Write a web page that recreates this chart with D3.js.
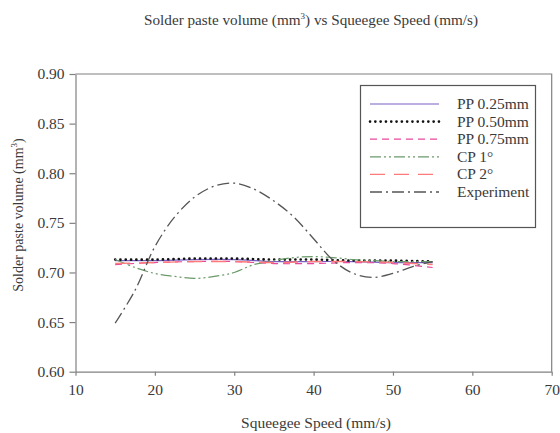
<!DOCTYPE html>
<html>
<head>
<meta charset="utf-8">
<script src="https://cdn.jsdelivr.net/npm/d3@7"></script>
<style>
  html, body { margin: 0; padding: 0; background: #fff; }
  svg { display: block; font-family: "Liberation Serif", "Times New Roman", serif; }
</style>
</head>
<body>
<div id="chart"></div>
<script>
// ---- Data ----
const xFlat = [15, 20, 25, 30, 35, 40, 45, 50, 55];
const pp025 = [0.712, 0.712, 0.713, 0.713, 0.711, 0.711, 0.711, 0.710, 0.710];
const pp050 = [0.713, 0.713, 0.714, 0.714, 0.713, 0.713, 0.712, 0.712, 0.711];
const pp075 = [0.708, 0.710, 0.711, 0.711, 0.709, 0.709, 0.710, 0.709, 0.705];
const cp2 = [0.709, 0.710, 0.711, 0.711, 0.710, 0.711, 0.711, 0.710, 0.708];

const xFine = [15, 17.5, 20, 22.5, 25, 27.5, 30, 32.5, 35, 37.5, 40, 42.5, 45, 47.5, 50, 52.5, 55];
const cp1 = [0.713, 0.705, 0.699, 0.696, 0.694, 0.696, 0.700, 0.708, 0.712, 0.715, 0.716, 0.715, 0.713, 0.712, 0.711, 0.711, 0.711];
const experiment = [0.649, 0.682, 0.726, 0.756, 0.776, 0.787, 0.790, 0.784, 0.772, 0.756, 0.734, 0.712, 0.699, 0.695, 0.699, 0.706, 0.711];

const xTicks = [10, 20, 30, 40, 50, 60, 70];
const yTicks = [0.60, 0.65, 0.70, 0.75, 0.80, 0.85, 0.90];

const seriesNames = ["PP 0.25mm", "PP 0.50mm", "PP 0.75mm", "CP 1°", "CP 2°", "Experiment"];

// ---- Styles ----
const styles = {
  "PP 0.25mm": { color: "#7a5fc4", width: 1.2, dash: null, cap: "butt" },
  "PP 0.50mm": { color: "#111111", width: 2.6, dash: "0.1,5.2", cap: "round" },
  "PP 0.75mm": { color: "#e8489c", width: 1.2, dash: "7,5", cap: "butt" },
  "CP 1°": { color: "#6a9a6a", width: 1.2, dash: "11,3,2,3,2,3", cap: "butt" },
  "CP 2°": { color: "#ff7a7a", width: 1.4, dash: "15,9", cap: "butt" },
  "Experiment": { color: "#555555", width: 1.3, dash: "12,4,2,4", cap: "butt" }
};

const series = [
  { name: "PP 0.25mm", xs: xFlat, ys: pp025 },
  { name: "PP 0.50mm", xs: xFlat, ys: pp050 },
  { name: "PP 0.75mm", xs: xFlat, ys: pp075 },
  { name: "CP 1°", xs: xFine, ys: cp1 },
  { name: "CP 2°", xs: xFlat, ys: cp2 },
  { name: "Experiment", xs: xFine, ys: experiment }
];

const W = 560, H = 433;
const L = 75.5, R = 551.7, T = 74, B = 371.7;

const svg = d3.select("#chart").append("svg").attr("width", W).attr("height", H);

const x = d3.scaleLinear().domain([10, 70]).range([L, R]);
const y = d3.scaleLinear().domain([0.60, 0.90]).range([B, T]);

const axisColor = "#808080";
const textColor = "#3a3a3a";

// Title
const title = svg.append("text")
  .attr("x", 311).attr("y", 25)
  .attr("text-anchor", "middle")
  .attr("font-size", 15.2)
  .attr("fill", textColor);
title.append("tspan").text("Solder paste volume (mm");
title.append("tspan").attr("dy", -6).attr("font-size", 9).text("3");
title.append("tspan").attr("dy", 6).text(") vs Squeegee Speed (mm/s)");

// Frame (top & right)
svg.append("path")
  .attr("d", `M${L},${T}H${R}V${B}`)
  .attr("fill", "none").attr("stroke", axisColor).attr("stroke-width", 1.2);

// Axes
const xAxis = d3.axisBottom(x).tickValues(xTicks).tickFormat(d3.format("d")).tickSizeInner(4).tickSizeOuter(0).tickPadding(8);
const gx = svg.append("g").attr("transform", `translate(0,${B})`).call(xAxis);
const yAxis = d3.axisLeft(y).tickValues(yTicks).tickFormat(d3.format(".2f")).tickSizeInner(6).tickSizeOuter(0).tickPadding(5);
const gy = svg.append("g").attr("transform", `translate(${L},0)`).call(yAxis);

[gx, gy].forEach(g => {
  g.select(".domain").attr("stroke", axisColor).attr("stroke-width", 1.2);
  g.selectAll(".tick line").attr("stroke", axisColor).attr("stroke-width", 1.2);
  g.selectAll(".tick text").attr("fill", textColor).attr("font-size", 15.5)
    .attr("font-family", "Liberation Serif, Times New Roman, serif");
});

// Axis labels
svg.append("text")
  .attr("x", 316).attr("y", 428)
  .attr("text-anchor", "middle")
  .attr("font-size", 15.5)
  .attr("fill", textColor)
  .text("Squeegee Speed (mm/s)");

const yl = svg.append("text")
  .attr("transform", "translate(23,215) rotate(-90)")
  .attr("text-anchor", "middle")
  .attr("font-size", 14)
  .attr("fill", textColor);
yl.append("tspan").text("Solder paste volume (mm");
yl.append("tspan").attr("dy", -6).attr("font-size", 9).text("3");
yl.append("tspan").attr("dy", 6).text(")");

// Lines
const g = svg.append("g");
series.forEach(s => {
  const st = styles[s.name];
  const pts = s.xs.map((xv, i) => [xv, s.ys[i]]);
  const line = d3.line().x(d => x(d[0])).y(d => y(d[1])).curve(d3.curveCatmullRom.alpha(0.5));
  g.append("path")
    .datum(pts)
    .attr("d", line)
    .attr("fill", "none")
    .attr("stroke", st.color)
    .attr("stroke-width", st.width)
    .attr("stroke-linecap", st.cap)
    .attr("stroke-dasharray", st.dash);
});

// Legend
const lg = svg.append("g");
lg.append("rect")
  .attr("x", 360.5).attr("y", 85.5).attr("width", 175).attr("height", 142)
  .attr("fill", "#fff").attr("stroke", "#555").attr("stroke-width", 1.2);
seriesNames.forEach((n, i) => {
  const st = styles[n];
  const cy = 104 + i * 17.6;
  lg.append("line")
    .attr("x1", 370).attr("x2", 439).attr("y1", cy).attr("y2", cy)
    .attr("stroke", st.color).attr("stroke-width", st.width)
    .attr("stroke-linecap", st.cap).attr("stroke-dasharray", st.dash);
  lg.append("text")
    .attr("x", 457).attr("y", cy + 5)
    .attr("font-size", 15.5)
    .attr("fill", textColor)
    .text(n);
});
</script>
</body>
</html>
